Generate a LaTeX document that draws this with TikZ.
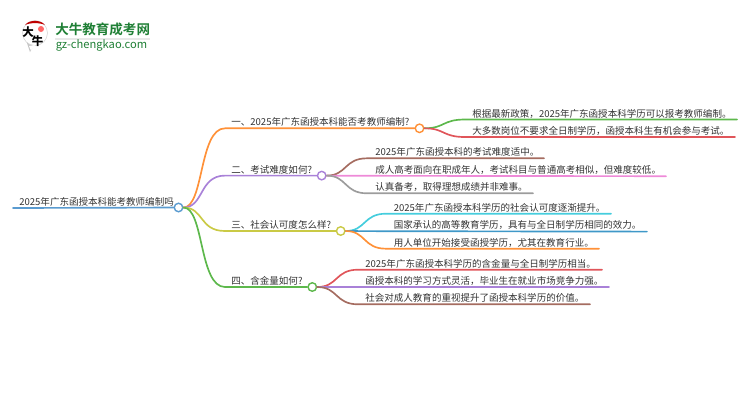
\documentclass[tikz,border=0pt]{standalone}
\usepackage{fontspec}
\setmainfont{Noto Sans CJK SC}
\newfontfamily\logofont[BoldFont={Noto Sans CJK SC Bold}]{Noto Sans CJK SC}
\definecolor{txtgray}{HTML}{333333}
\definecolor{logogreen}{HTML}{1F7F35}
\definecolor{rootblue}{HTML}{5A9BD0}
\definecolor{orangeA}{HTML}{FF9138}
\definecolor{purpleA}{HTML}{A981D8}
\definecolor{oliveA}{HTML}{CACA45}
\definecolor{greenA}{HTML}{5DB84C}
\definecolor{redA}{HTML}{E0555A}
\definecolor{brownA}{HTML}{A56C60}
\definecolor{pinkA}{HTML}{EE8AD8}
\definecolor{grayA}{HTML}{9C9C9C}
\definecolor{cyanA}{HTML}{45CDDD}
\definecolor{blueA}{HTML}{3F98C8}
\tikzset{
  lbl/.style={anchor=base west,inner sep=0pt,text=txtgray,font=\fontsize{5.42}{6.5}\selectfont},
  wire/.style={line width=0.95pt,line cap=round},
  hub/.style={circle,draw,fill=white,line width=0.8pt,inner sep=0pt,minimum size=0.17cm},
}

\begin{document}
\begin{tikzpicture}[x=0.02cm,y=-0.02cm]
\useasboundingbox (0,0) rectangle (750,410);

% logo
\fill[gray!45] (23.5,33) -- (30,52) -- (33.5,46) -- cycle;
\draw[gray!35,fill=white,line width=0.3pt] (35,33) circle (12.5);
\fill[white] (29,46) -- (31,50.5) -- (35,45) -- cycle;
\fill[red!75!black] (25,25) .. controls (29,19.5) and (41,19.5) .. (45,25) .. controls (40,22.5) and (30,22.5) .. (25,25) -- cycle;
\fill[red!60] (41,29) circle (3);
\node[inner sep=0pt,font=\fontsize{6.5}{7}\selectfont\bfseries] (logoa) at (28,32.5) {大};
\node[inner sep=0pt,font=\fontsize{6.5}{7}\selectfont\bfseries] (logob) at (37.5,41) {牛};
\node[anchor=base west,inner sep=0pt,text=logogreen,font=\logofont\fontsize{7.7}{8}\selectfont\bfseries] (logotitle) at (55,34.5) {大牛教育成考网};
\fill[gray!18] (55,38) rectangle (150,39.5);
\node[anchor=base west,inner sep=0pt,text=logogreen,font=\logofont\fontsize{6.35}{7}\selectfont] (logourl) at (55.5,48.5) {gz-chengkao.com};

% points
\coordinate (rootstart) at (13,208);
\coordinate (b1) at (225,128.3);
\coordinate (b2) at (225,175.6);
\coordinate (b3) at (225,231);
\coordinate (b4) at (225,287);
\coordinate (l1a) at (465,119.5);  \coordinate (l1ae) at (737,119.5);
\coordinate (l1b) at (465,137);    \coordinate (l1be) at (735,137);
\coordinate (l2a) at (367,158.3);  \coordinate (l2ae) at (544,158.3);
\coordinate (l2b) at (367,175.8);  \coordinate (l2be) at (666,176.2);
\coordinate (l2c) at (367,193.3);  \coordinate (l2ce) at (533,193.3);
\coordinate (l3a) at (386,213.7);  \coordinate (l3ae) at (611,213.7);
\coordinate (l3b) at (386,231.2);  \coordinate (l3be) at (647,231.6);
\coordinate (l3c) at (386,248.7);  \coordinate (l3ce) at (599,248.7);
\coordinate (l4a) at (358,269.7);  \coordinate (l4ae) at (602,269.7);
\coordinate (l4b) at (358,287);    \coordinate (l4be) at (609,287);
\coordinate (l4c) at (358,304.3);  \coordinate (l4ce) at (590,304.3);

% hubs
\node[hub,draw=rootblue] (hub0) at (178.5,207.5) {};
\node[hub,draw=orangeA] (hub1) at (419.5,128.3) {};
\node[hub,draw=purpleA] (hub2) at (321.7,175.6) {};
\node[hub,draw=oliveA] (hub3) at (340.7,231) {};
\node[hub,draw=greenA] (hub4) at (312.3,287) {};

% first level
\draw[wire,rootblue] (rootstart) -- (hub0);
\draw[wire,orangeA] (hub0) .. controls (204,207.5) and (199,128.3) .. (b1) -- (hub1);
\draw[wire,purpleA] (hub0) .. controls (204,207.5) and (199,175.6) .. (b2) -- (hub2);
\draw[wire,oliveA] (hub0) .. controls (204,207.5) and (199,231) .. (b3) -- (hub3);
\draw[wire,greenA] (hub0) .. controls (204,207.5) and (199,287) .. (b4) -- (hub4);

% second level
\draw[wire,greenA] (hub1) .. controls (445,128.3) and (442,119.5) .. (l1a) -- (l1ae); %1
\draw[wire,redA] (hub1) .. controls (445,128.3) and (442,137) .. (l1b) -- (l1be); %2
\draw[wire,brownA] (hub2) .. controls (347,175.6) and (344,158.3) .. (l2a) -- (l2ae); %1
\draw[wire,pinkA] (hub2) -- (l2b) -- (l2be); %2
\draw[wire,grayA] (hub2) .. controls (347,175.6) and (344,193.3) .. (l2c) -- (l2ce); %3
\draw[wire,cyanA] (hub3) .. controls (366,231) and (363,213.7) .. (l3a) -- (l3ae); %1
\draw[wire,blueA] (hub3) -- (l3b) -- (l3be); %2
\draw[wire,orangeA] (hub3) .. controls (366,231) and (363,248.7) .. (l3c) -- (l3ce); %3
\draw[wire,redA] (hub4) .. controls (338,287) and (335,269.7) .. (l4a) -- (l4ae); %1
\draw[wire,purpleA] (hub4) -- (l4b) -- (l4be); %2
\draw[wire,brownA] (hub4) .. controls (338,287) and (335,304.3) .. (l4c) -- (l4ce); %3

% labels
\node[lbl] (root) at (19,205) {2025年广东函授本科能考教师编制吗};
\node[lbl] (t1) at (231,125.8) {一、2025年广东函授本科能否考教师编制?};
\node[lbl] (t2) at (231,173.1) {二、考试难度如何?};
\node[lbl] (t3) at (231,228.5) {三、社会认可度怎么样?};
\node[lbl] (t4) at (231,284.5) {四、含金量如何?};

\node[lbl] (t1a) at (472,117) {根据最新政策，2025年广东函授本科学历可以报考教师编制。};
\node[lbl] (t1b) at (472,134.5) {大多数岗位不要求全日制学历，函授本科生有机会参与考试。};
\node[lbl] (t2a) at (375,155.8) {2025年广东函授本科的考试难度适中。};
\node[lbl] (t2b) at (375,173.1) {成人高考面向在职成年人，考试科目与普通高考相似，但难度较低。};
\node[lbl] (t2c) at (375,190.8) {认真备考，取得理想成绩并非难事。};
\node[lbl] (t3a) at (393.5,211.2) {2025年广东函授本科学历的社会认可度逐渐提升。};
\node[lbl] (t3b) at (393.5,228.5) {国家承认的高等教育学历，具有与全日制学历相同的效力。};
\node[lbl] (t3c) at (393.5,246.2) {用人单位开始接受函授学历，尤其在教育行业。};
\node[lbl] (t4a) at (365,267.2) {2025年广东函授本科学历的含金量与全日制学历相当。};
\node[lbl] (t4b) at (365,284.5) {函授本科的学习方式灵活，毕业生在就业市场竞争力强。};
\node[lbl] (t4c) at (365,301.8) {社会对成人教育的重视提升了函授本科学历的价值。};

\end{tikzpicture}
\end{document}
